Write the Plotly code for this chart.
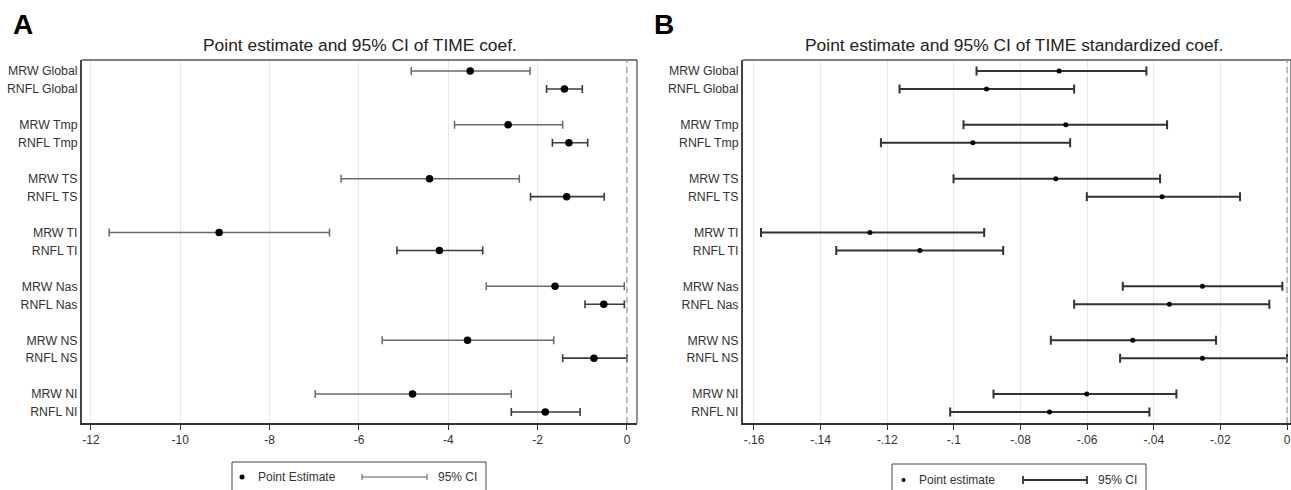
import plotly.graph_objects as go

# ---------------- data ----------------
regions = ["Global", "Tmp", "TS", "TI", "Nas", "NS", "NI"]

# Panel A: TIME coefficient
mrw_est = [-3.51, -2.66, -4.42, -9.13, -1.61, -3.57, -4.80]
mrw_lo = [-4.83, -3.86, -6.40, -11.59, -3.15, -5.48, -6.98]
mrw_hi = [-2.17, -1.44, -2.41, -6.66, -0.06, -1.64, -2.59]
rnfl_est = [-1.40, -1.30, -1.35, -4.20, -0.52, -0.74, -1.83]
rnfl_lo = [-1.80, -1.67, -2.16, -5.15, -0.94, -1.44, -2.59]
rnfl_hi = [-1.00, -0.88, -0.51, -3.23, -0.06, 0.00, -1.05]

# Panel B: TIME standardized coefficient
mrw_std_est = [-0.0684, -0.0664, -0.0694, -0.1252, -0.0254, -0.0463, -0.0601]
mrw_std_lo = [-0.0932, -0.0971, -0.1001, -0.1579, -0.0493, -0.0709, -0.0881]
mrw_std_hi = [-0.0422, -0.0360, -0.0381, -0.0909, -0.0014, -0.0213, -0.0332]
rnfl_std_est = [-0.0902, -0.0943, -0.0375, -0.1102, -0.0353, -0.0254, -0.0713]
rnfl_std_lo = [-0.1163, -0.1219, -0.0601, -0.1353, -0.0639, -0.0501, -0.1011]
rnfl_std_hi = [-0.0639, -0.0651, -0.0141, -0.0852, -0.0053, 0.0000, -0.0413]

xticks_a = [-12, -10, -8, -6, -4, -2, 0]
xticklabels_a = ["-12", "-10", "-8", "-6", "-4", "-2", "0"]
xticks_b = [-0.16, -0.14, -0.12, -0.10, -0.08, -0.06, -0.04, -0.02, 0]
xticklabels_b = ["-.16", "-.14", "-.12", "-.1", "-.08", "-.06", "-.04", "-.02", "0"]

title_a = "Point estimate and 95% CI of TIME coef."
title_b = "Point estimate and 95% CI of TIME standardized coef."

# ---------------- layout helpers ----------------
W, H = 1291, 490
FONT = "Arial, Liberation Sans, sans-serif"


def px(x):
    return x / W


def py(y):
    return 1 - y / H


mrw_pos = [3 * i for i in range(len(regions))]
rnfl_pos = [3 * i + 1 for i in range(len(regions))]
ytickvals = []
yticktext = []
for i, r in enumerate(regions):
    ytickvals += [mrw_pos[i], rnfl_pos[i]]
    yticktext += ["MRW " + r, "RNFL " + r]


def err(est, lo, hi):
    return dict(
        plus=[h - e for e, h in zip(est, hi)],
        minus=[e - l for e, l in zip(est, lo)],
    )


fig = go.Figure()


def add_series(est, lo, hi, pos, xa, ya, color, thick, cap, msize):
    e = err(est, lo, hi)
    fig.add_trace(
        go.Scatter(
            x=est, y=pos, mode="markers", xaxis=xa, yaxis=ya,
            marker=dict(color="black", size=msize),
            error_x=dict(type="data", symmetric=False, array=e["plus"],
                         arrayminus=e["minus"], color=color,
                         thickness=thick, width=cap),
            showlegend=False, hoverinfo="x+y",
        )
    )


add_series(mrw_est, mrw_lo, mrw_hi, mrw_pos, "x", "y", "#6a6a6a", 1.5, 4, 7.5)
add_series(rnfl_est, rnfl_lo, rnfl_hi, rnfl_pos, "x", "y", "#3c3c3c", 1.6, 4, 7.5)
add_series(mrw_std_est, mrw_std_lo, mrw_std_hi, mrw_pos, "x2", "y2", "#333333", 2, 4.5, 5)
add_series(rnfl_std_est, rnfl_std_lo, rnfl_std_hi, rnfl_pos, "x2", "y2", "#333333", 2, 4.5, 5)

ydom = [py(423), py(60)]
yrange = [19.613, -0.613]

common_x = dict(
    showgrid=True, gridcolor="#e8e8e8", gridwidth=1, zeroline=False,
    showline=True, linecolor="#333333", linewidth=2,
    ticks="outside", ticklen=5, tickwidth=1.3, tickcolor="#333333",
    tickfont=dict(family=FONT, size=12, color="#333333"),
)
common_y = dict(
    range=yrange, domain=ydom, showgrid=False, zeroline=False,
    showline=True, linecolor="#444444", linewidth=2, ticks="",
    tickvals=ytickvals, ticktext=yticktext,
    tickfont=dict(family=FONT, size=12.3, color="#333333"),
)

fig.update_layout(
    width=W, height=H, margin=dict(l=0, r=0, t=0, b=0),
    paper_bgcolor="white", plot_bgcolor="white", showlegend=False,
    xaxis=dict(domain=[px(82), px(637)], range=[-12.2, 0.224],
               tickvals=xticks_a, ticktext=xticklabels_a, anchor="y", **common_x),
    yaxis=dict(anchor="x", **common_y),
    xaxis2=dict(domain=[px(743), 1.0], range=[-0.1633, 0.0012],
                tickvals=xticks_b, ticktext=xticklabels_b, anchor="y2", **common_x),
    yaxis2=dict(anchor="x2", **common_y),
)

shapes = []
# frame top/right and zero dashed lines
for xa, ya in (("x", "y"), ("x2", "y2")):
    shapes.append(dict(type="line", xref=xa + " domain", yref=ya + " domain",
                       x0=0, x1=1, y0=1, y1=1, line=dict(color="#555555", width=1.3)))
    shapes.append(dict(type="line", xref=xa + " domain", yref=ya + " domain",
                       x0=1, x1=1, y0=0, y1=1, line=dict(color="#555555", width=1.3)))
    shapes.append(dict(type="line", xref=xa, yref=ya + " domain",
                       x0=0, x1=0, y0=0, y1=1,
                       line=dict(color="#9a9a9a", width=1.2, dash="6px,4px")))

# legend boxes
shapes.append(dict(type="rect", xref="paper", yref="paper",
                   x0=px(232), x1=px(486), y0=py(493), y1=py(462),
                   line=dict(color="#444444", width=1)))
shapes.append(dict(type="rect", xref="paper", yref="paper",
                   x0=px(892), x1=px(1146), y0=py(493), y1=py(464),
                   line=dict(color="#444444", width=1)))
# legend point symbols
shapes.append(dict(type="circle", xref="paper", yref="paper",
                   x0=px(239.5), x1=px(244.5), y0=py(479.5), y1=py(474.5),
                   fillcolor="black", line=dict(color="black", width=0)))
shapes.append(dict(type="circle", xref="paper", yref="paper",
                   x0=px(901.5), x1=px(905.5), y0=py(482), y1=py(478),
                   fillcolor="black", line=dict(color="black", width=0)))
# legend CI symbols
for (x0, x1, yc, col, w, capw) in ((362, 427, 477, "#555555", 1, 3), (1023, 1087, 480, "#333333", 1.8, 4)):
    shapes.append(dict(type="line", xref="paper", yref="paper", x0=px(x0), x1=px(x1),
                       y0=py(yc), y1=py(yc), line=dict(color=col, width=w)))
    for xx in (x0, x1):
        shapes.append(dict(type="line", xref="paper", yref="paper", x0=px(xx), x1=px(xx),
                           y0=py(yc - capw), y1=py(yc + capw), line=dict(color=col, width=w)))

fig.update_layout(shapes=shapes)

ann = []
ann.append(dict(text="<b>A</b>", x=px(11), y=py(25), xref="paper", yref="paper",
                xanchor="left", yanchor="middle", showarrow=False,
                font=dict(family=FONT, size=28, color="black")))
ann.append(dict(text="<b>B</b>", x=px(652), y=py(25), xref="paper", yref="paper",
                xanchor="left", yanchor="middle", showarrow=False,
                font=dict(family=FONT, size=28, color="black")))
ann.append(dict(text=title_a, x=0.5, y=py(45), xref="x domain", yref="paper",
                xanchor="center", yanchor="middle", showarrow=False,
                font=dict(family=FONT, size=17.4, color="#222222")))
ann.append(dict(text=title_b, x=px(1014), y=py(45), xref="paper", yref="paper",
                xanchor="center", yanchor="middle", showarrow=False,
                font=dict(family=FONT, size=17.4, color="#222222")))
legend_texts = [("Point Estimate", 256, 477), ("95% CI", 436, 477),
                ("Point estimate", 917, 480), ("95% CI", 1096, 480)]
for t, x, y in legend_texts:
    ann.append(dict(text=t, x=px(x), y=py(y), xref="paper", yref="paper",
                    xanchor="left", yanchor="middle", showarrow=False,
                    font=dict(family=FONT, size=12, color="#333333")))
fig.update_layout(annotations=ann)

fig.write_html("out.html", config={"displayModeBar": False},
               post_script="document.body.style.margin='0';")
